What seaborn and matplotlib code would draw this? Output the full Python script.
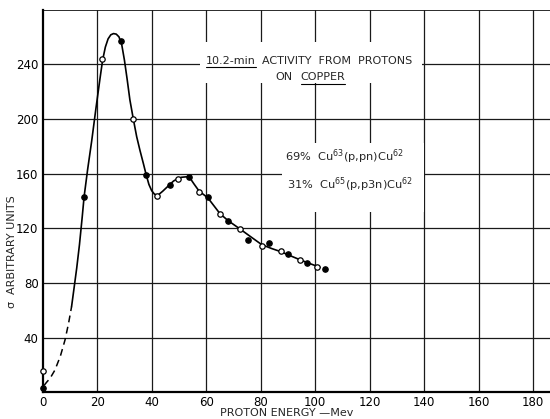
import matplotlib
matplotlib.use("Agg")
import matplotlib.pyplot as plt
from matplotlib.patches import Rectangle
import seaborn as sns
import pandas as pd

# ---- data ----
open_x = [0, 21.9, 33.3, 42.1, 49.6, 57.4, 65.1, 72.4, 80.4, 87.5, 94.5, 100.8]
open_y = [15.8, 244, 199.7, 143.8, 156.3, 146.8, 130.4, 119.5, 107.0, 103.4, 96.8, 91.7]

filled_x = [0, 15.0, 28.7, 37.9, 46.7, 53.7, 60.6, 68.1, 75.4, 83.1, 90.2, 96.9, 103.6]
filled_y = [2.9, 142.6, 256.8, 159.3, 151.9, 157.7, 143.1, 125.3, 111.6, 109.0, 101.4, 94.6, 90.2]

dash_x = [0.5, 1.5, 2.7, 4.5, 6.5, 8.2, 9.5, 10.6]
dash_y = [5.0, 7.5, 10.2, 16.3, 26.5, 38.3, 50.5, 62.6]

curve_x = [10.6, 11.5, 12.5, 13.5, 14.5, 15.2, 16.5, 18.0, 19.5, 21.0, 22.0, 23.0,
           24.0, 25.0, 26.0, 27.0, 28.0, 29.0, 30.0, 31.0, 32.0, 33.3, 34.5, 35.7,
           37.0, 38.0, 39.0, 40.0, 41.0, 42.2, 44.0, 46.5, 48.0, 49.6, 51.0, 53.7,
           55.5, 57.4, 60.6, 65.1, 68.1, 72.4, 76.0, 80.4, 84.0, 87.5, 91.0, 94.5,
           98.0, 101.8]
curve_y = [62.6, 76, 91, 108, 128, 143, 163, 184, 207, 229, 243, 252.5,
           258.5, 261.5, 262.4, 262, 260, 254.5, 243, 229, 214, 199.5, 187, 177,
           167, 159, 152, 147.5, 145, 144, 147, 151.7, 154.5, 156.4, 157.3, 157.8,
           152.5, 147.2, 142.3, 130.6, 125.5, 119.5, 114.3, 108, 105.2, 102.8, 99.8, 96.9,
           94.2, 91.4]

x_ticks = [0, 20, 40, 60, 80, 100, 120, 140, 160, 180]
y_ticks = [40, 80, 120, 160, 200, 240]
y_grid = [40, 80, 120, 160, 200, 240]

x_label = "PROTON ENERGY \u2014Mev"
y_label = "\u03c3  ARBITRARY UNITS"

df_open = pd.DataFrame({"x": open_x, "y": open_y})
df_filled = pd.DataFrame({"x": filled_x, "y": filled_y})
df_dash = pd.DataFrame({"x": dash_x, "y": dash_y})
df_curve = pd.DataFrame({"x": curve_x, "y": curve_y})

sns.set_style("white")
plt.rcParams["font.family"] = ["DejaVu Sans"]
plt.rcParams["mathtext.fontset"] = "dejavusans"

fig = plt.figure(figsize=(5.5, 4.19), dpi=100)
ax = fig.add_axes([0.0776, 0.0637, 0.9224, 0.9136])
ax.set_xlim(0, 186.2)
ax.set_ylim(0, 280)

# grid
for gx in x_ticks[1:]:
    ax.axvline(gx, color="#1a1a1a", lw=0.9, zorder=1)
for gy in y_grid:
    ax.axhline(gy, color="#1a1a1a", lw=0.9, zorder=1)
ax.axhline(280, color="#1a1a1a", lw=1.3, zorder=1)

# white erasing boxes behind annotation texts
ax.add_patch(Rectangle((57.8, 226), 81.5, 30, facecolor="white", edgecolor="none", zorder=2))
ax.add_patch(Rectangle((88.0, 132), 52.0, 50, facecolor="white", edgecolor="none", zorder=2))

# curve
sns.lineplot(data=df_dash, x="x", y="y", sort=False, color="black", lw=1.1,
             linestyle=(0, (4.5, 3)), ax=ax, zorder=3)
sns.lineplot(data=df_curve, x="x", y="y", sort=False, color="black", lw=1.2,
             ax=ax, zorder=3)

# points
sns.scatterplot(data=df_open, x="x", y="y", marker="o", s=15, facecolor="white",
                edgecolor="black", linewidth=0.9, ax=ax, zorder=4, clip_on=False)
sns.scatterplot(data=df_filled, x="x", y="y", marker="o", s=15, color="black",
                edgecolor="black", linewidth=0.9, ax=ax, zorder=4, clip_on=False)

# texts
fs = 8
t1 = ax.text(60.0, 242.7, "10.2-min", fontsize=fs, ha="left", va="center", zorder=5)
ax.text(80.4, 242.7, "ACTIVITY  FROM  PROTONS", fontsize=fs, ha="left", va="center", zorder=5)
ax.text(85.3, 230.3, "ON", fontsize=fs, ha="left", va="center", zorder=5)
t2 = ax.text(94.7, 230.3, "COPPER", fontsize=fs, ha="left", va="center", zorder=5)
ax.text(89.0, 172.0, r"69%  Cu$^{63}$(p,pn)Cu$^{62}$", fontsize=8.2, ha="left", va="center", zorder=5)
ax.text(89.7, 151.9, r"31%  Cu$^{65}$(p,p3n)Cu$^{62}$", fontsize=8.2, ha="left", va="center", zorder=5)

fig.canvas.draw()
inv = ax.transData.inverted()
for t in (t1, t2):
    bb = t.get_window_extent()
    (xa, ya), (xb, yb) = inv.transform([[bb.x0, bb.y0], [bb.x1, bb.y1]])
    ax.plot([xa, xb], [ya - 1.0, ya - 1.0], color="black", lw=0.8, zorder=5)

ax.set_xticks(x_ticks)
ax.set_yticks(y_ticks)
ax.tick_params(axis="both", length=0, labelsize=8.5, colors="black")
ax.tick_params(axis="x", pad=3)
ax.tick_params(axis="y", pad=3)

ax.set_xlabel(x_label, fontsize=8, va="center")
ax.xaxis.set_label_coords(0.48, -0.054)
ax.set_ylabel(y_label, fontsize=8, va="center")
ax.yaxis.set_label_coords(-0.06, 0.367)

for side in ("left", "bottom"):
    ax.spines[side].set_color("black")
    ax.spines[side].set_linewidth(1.6)
for side in ("top", "right"):
    ax.spines[side].set_visible(False)

fig.savefig("out.png", dpi=100)
